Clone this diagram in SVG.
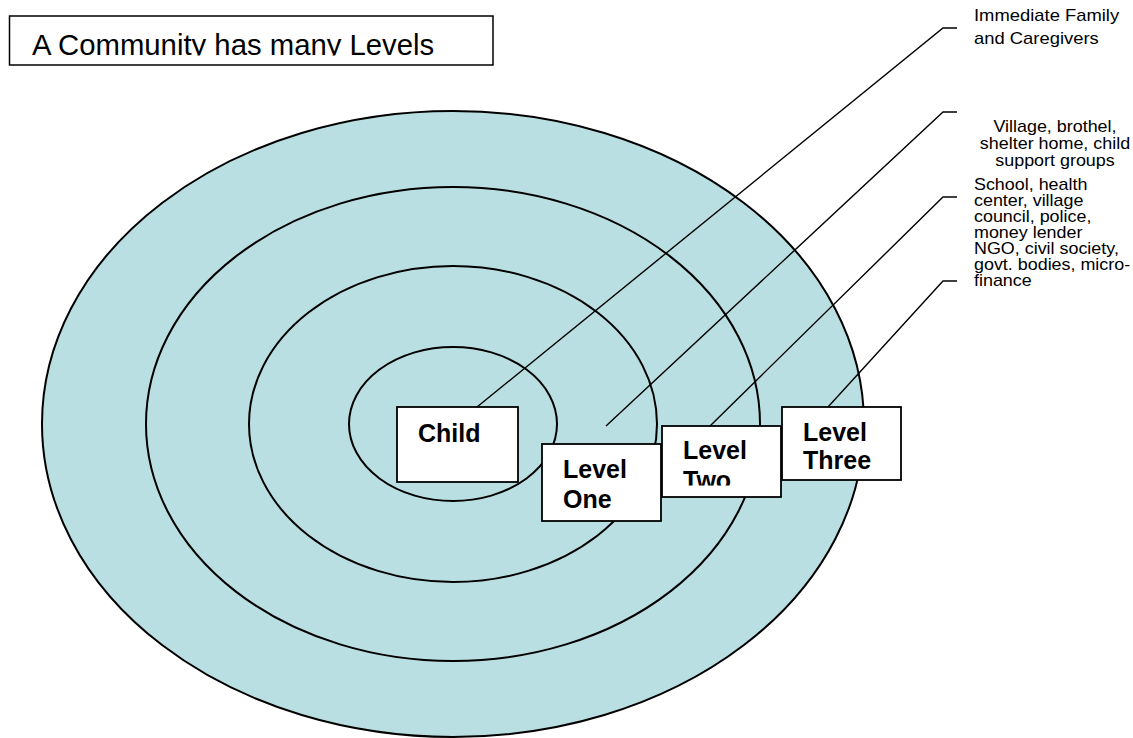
<svg xmlns="http://www.w3.org/2000/svg" width="1133" height="738" viewBox="0 0 1133 738">
<style>
.ring{fill:#BADFE2;stroke:#000;stroke-width:2}
.ring2{fill:none;stroke:#000;stroke-width:2}
.box{fill:#fff;stroke:#000;stroke-width:1.8}
.lbl{font-family:"Liberation Sans",Arial,sans-serif;font-weight:bold;font-size:25px;fill:#000}
.side{font-family:"Liberation Sans",Arial,sans-serif;font-size:16px;fill:#000}
.con{fill:none;stroke:#000;stroke-width:1.4}
</style>
<defs>
<clipPath id="clipTitle"><rect x="10" y="17" width="482" height="38.6"/></clipPath>
<clipPath id="clipTwo"><rect x="662" y="426" width="118" height="59.5"/></clipPath>
</defs>
<rect width="1133" height="738" fill="#fff"/>
<g id="title">
<rect x="9.5" y="16" width="483.5" height="49" fill="#fff" stroke="#000" stroke-width="1.5"/>
<text x="32" y="55" clip-path="url(#clipTitle)" font-family="'Liberation Sans',Arial,sans-serif" font-size="29.3">A Community has many Levels</text>
</g>
<g id="rings">
<ellipse class="ring" cx="453" cy="424" rx="411" ry="313"/>
<ellipse class="ring2" cx="453" cy="424" rx="307" ry="237"/>
<ellipse class="ring2" cx="453" cy="424" rx="204" ry="158"/>
<ellipse class="ring2" cx="453" cy="424" rx="104" ry="77"/>
</g>
<g id="connectors">
<polyline class="con" points="477,407 943,28 957,28"/>
<polyline class="con" points="606,426 943,112 957,112"/>
<polyline class="con" points="710,426 943,197 957,197"/>
<polyline class="con" points="828,407 943,281 957,281"/>
</g>
<g id="child">
<rect class="box" x="397" y="407" width="121" height="75"/>
<text class="lbl" x="418" y="442">Child</text>
</g>
<g id="level-one">
<rect class="box" x="542" y="444" width="119" height="77"/>
<text class="lbl" x="563" y="478">Level</text>
<text class="lbl" x="563" y="508">One</text>
</g>
<g id="level-two">
<rect class="box" x="662" y="426" width="119" height="71"/>
<g clip-path="url(#clipTwo)">
<text class="lbl" x="683" y="459">Level</text>
<text class="lbl" x="683" y="489">Two</text>
</g>
</g>
<g id="level-three">
<rect class="box" x="782" y="407" width="119" height="73"/>
<text class="lbl" x="803" y="441">Level</text>
<text class="lbl" x="803" y="469">Three</text>
</g>
<g id="label-family" transform="translate(974,0) scale(1.15,1) translate(-974,0)">
<text class="side" x="974" y="21">Immediate Family</text>
<text class="side" x="974" y="44">and Caregivers</text>
</g>
<g id="label-village" text-anchor="middle" transform="translate(1055,0) scale(1.12,1) translate(-1055,0)">
<text class="side" x="1055" y="132">Village, brothel,</text>
<text class="side" x="1055" y="149">shelter home, child</text>
<text class="side" x="1055" y="166">support groups</text>
</g>
<g id="label-school" transform="translate(974,0) scale(1.12,1) translate(-974,0)">
<text class="side" x="974" y="190">School, health</text>
<text class="side" x="974" y="206">center, village</text>
<text class="side" x="974" y="222">council, police,</text>
<text class="side" x="974" y="238">money lender</text>
</g>
<g id="label-ngo" transform="translate(974,0) scale(1.12,1) translate(-974,0)">
<text class="side" x="974" y="254">NGO, civil society,</text>
<text class="side" x="974" y="270">govt. bodies, micro-</text>
<text class="side" x="974" y="286">finance</text>
</g>
</svg>
